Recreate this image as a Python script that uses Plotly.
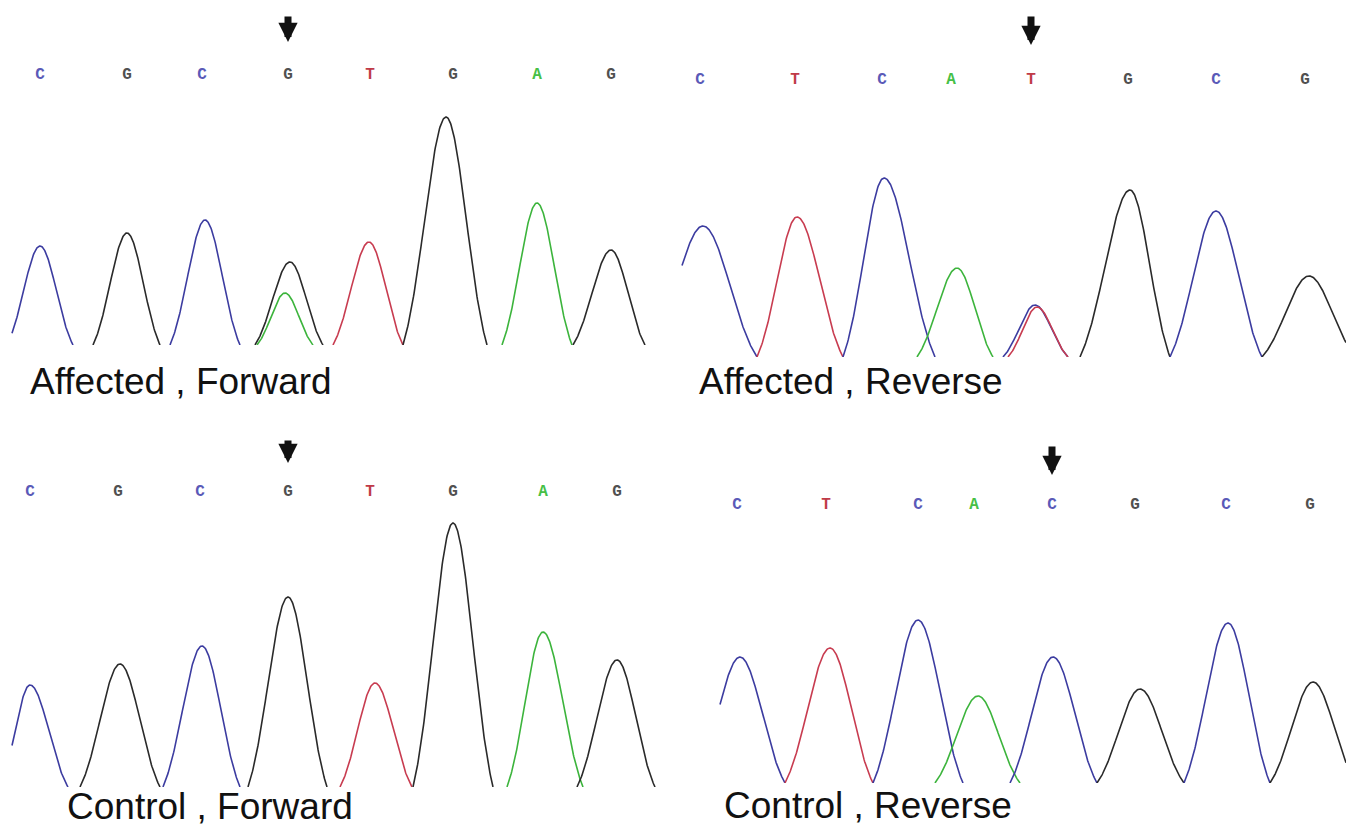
import numpy as np
import plotly.graph_objects as go

W, H = 1346, 826

# ---------------- data ----------------
titles = ["Affected , Forward", "Affected , Reverse", "Control , Forward", "Control , Reverse"]

# base calls (letter, scan position)
calls_1 = ["C", "G", "C", "G", "T", "G", "A", "G"]
callpos_1 = [40, 127, 202, 288, 370, 453, 537, 611]
calls_2 = ["C", "T", "C", "A", "T", "G", "C", "G"]
callpos_2 = [27, 122, 209, 278, 358, 455, 543, 632]
calls_3 = ["C", "G", "C", "G", "T", "G", "A", "G"]
callpos_3 = [30, 118, 200, 288, 370, 453, 543, 617]
calls_4 = ["C", "T", "C", "A", "C", "G", "C", "G"]
callpos_4 = [64, 153, 245, 301, 379, 462, 553, 637]

# arrow marks the variant base (index into calls)
variant_idx = [3, 4, 3, 4]

# peaks: dye, centre, height, left half-width, right half-width
pk_base_1 = ["C", "G", "C", "G", "A", "T", "G", "A", "G"]
pk_pos_1 = [40, 127, 205, 290, 285, 369, 446, 537, 611]
pk_h_1 = [99, 112, 125, 83, 52, 103, 228, 142, 95]
pk_wl_1 = [33, 34, 35, 35, 28, 36, 43, 35, 38]
pk_wr_1 = [33, 33, 35, 33, 28, 34, 41, 35, 34]

pk_base_2 = ["C", "T", "C", "A", "C", "T", "G", "C", "G"]
pk_pos_2 = [30, 124, 211, 284, 362, 364, 457, 543, 636]
pk_h_2 = [131, 140, 179, 89, 52, 50, 167, 146, 81]
pk_wl_2 = [54, 40, 41, 40, 32, 29, 50, 46, 47]
pk_wr_2 = [54, 46, 51, 36, 33, 31, 40, 46, 47]

pk_base_3 = ["C", "G", "C", "G", "T", "G", "A", "G"]
pk_pos_3 = [30, 120, 202, 288, 375, 453, 543, 617]
pk_h_3 = [102, 123, 141, 190, 104, 264, 155, 127]
pk_wl_3 = [30, 40, 39, 40, 35, 40, 36, 40]
pk_wr_3 = [38, 40, 38, 39, 37, 40, 40, 38]

pk_base_4 = ["C", "T", "C", "A", "C", "G", "C", "G"]
pk_pos_4 = [67, 157, 245, 305, 380, 467, 555, 640]
pk_h_4 = [126, 135, 163, 87, 126, 94, 160, 101]
pk_wl_4 = [45, 45, 45, 43, 43, 43, 44, 43]
pk_wr_4 = [45, 43, 45, 42, 44, 44, 42, 43]

# visible scan window per panel
win_lo = [12, 9, 12, 47]
win_hi = [673, 673, 673, 673]

# ---------------- style ----------------
trace_col = {"A": "#3cb43c", "C": "#3c3ca0", "G": "#2a2a2a", "T": "#c83c50"}
letter_col = {"A": "#46c046", "C": "#5a5ab8", "G": "#505050", "T": "#c03a48"}
PEAK_K = 2.0  # peak sharpness

# panel pixel geometry: (baseline_px, top_px, x_domain)
geom = [
    (345, 0, [0.0, 0.5]),
    (357, 0, [0.5, 1.0]),
    (787, 413, [0.0, 0.5]),
    (783, 413, [0.5, 1.0]),
]
letter_row_px = [75, 80, 492, 505]
arrow_tip_px = [42, 45, 463, 475]
arrow_len_px = [27, 30, 24, 30]
title_px = [(28, 382), (697, 381), (65, 806), (722, 805)]

calls = [calls_1, calls_2, calls_3, calls_4]
callpos = [callpos_1, callpos_2, callpos_3, callpos_4]
peaks = [
    (pk_base_1, pk_pos_1, pk_h_1, pk_wl_1, pk_wr_1),
    (pk_base_2, pk_pos_2, pk_h_2, pk_wl_2, pk_wr_2),
    (pk_base_3, pk_pos_3, pk_h_3, pk_wl_3, pk_wr_3),
    (pk_base_4, pk_pos_4, pk_h_4, pk_wl_4, pk_wr_4),
]

fig = go.Figure()
annotations = []
layout_axes = {}

for p in range(4):
    base_px, top_px, xdom = geom[p]
    xa = "x" if p == 0 else f"x{p+1}"
    ya = "y" if p == 0 else f"y{p+1}"
    xkey = "xaxis" if p == 0 else f"xaxis{p+1}"
    ykey = "yaxis" if p == 0 else f"yaxis{p+1}"
    yr = base_px - top_px
    layout_axes[xkey] = dict(domain=xdom, range=[0, 673], visible=False, fixedrange=True)
    layout_axes[ykey] = dict(domain=[1 - base_px / H, 1 - top_px / H], range=[0, yr],
                             visible=False, fixedrange=True)

    b, pos, hh, wl, wr = peaks[p]
    for i in range(len(b)):
        lo = max(pos[i] - wl[i], win_lo[p])
        hi = min(pos[i] + wr[i], win_hi[p])
        xs = np.linspace(lo, hi, 160)
        w = np.where(xs < pos[i], wl[i], wr[i])
        d = (xs - pos[i]) / w
        e0 = np.exp(-PEAK_K)
        ys = hh[i] * (np.exp(-PEAK_K * d ** 2) - e0) / (1 - e0)
        ys = np.clip(ys, 0, None)
        fig.add_trace(go.Scatter(x=xs, y=ys, mode="lines", xaxis=xa, yaxis=ya,
                                 line=dict(color=trace_col[b[i]], width=1.6),
                                 hoverinfo="skip", showlegend=False))

    row_y = base_px - letter_row_px[p]
    fig.add_trace(go.Scatter(
        x=callpos[p], y=[row_y] * len(calls[p]), mode="text", text=calls[p],
        textfont=dict(family="Liberation Mono", size=16, weight="bold",
                      color=[letter_col[c] for c in calls[p]]),
        xaxis=xa, yaxis=ya, hoverinfo="skip", showlegend=False, cliponaxis=False))

    vi = variant_idx[p]
    annotations.append(dict(
        x=callpos[p][vi], y=base_px - arrow_tip_px[p], xref=xa, yref=ya,
        ax=0, ay=-arrow_len_px[p], axref="pixel", ayref="pixel",
        text="", showarrow=True, arrowhead=2, arrowsize=0.55, arrowwidth=7,
        arrowcolor="#111111"))

    tx, ty = title_px[p]
    annotations.append(dict(
        x=tx / W, y=1 - ty / H, xref="paper", yref="paper", xanchor="left",
        yanchor="middle", text=titles[p], showarrow=False,
        font=dict(family="Liberation Sans", size=37, color="#111111")))

fig.update_layout(width=W, height=H, margin=dict(l=0, r=0, t=0, b=0),
                  paper_bgcolor="white", plot_bgcolor="white",
                  annotations=annotations, **layout_axes)

fig.write_html("out.html", config={"displayModeBar": False},
               post_script="document.body.style.margin='0';document.body.style.overflow='hidden';")
